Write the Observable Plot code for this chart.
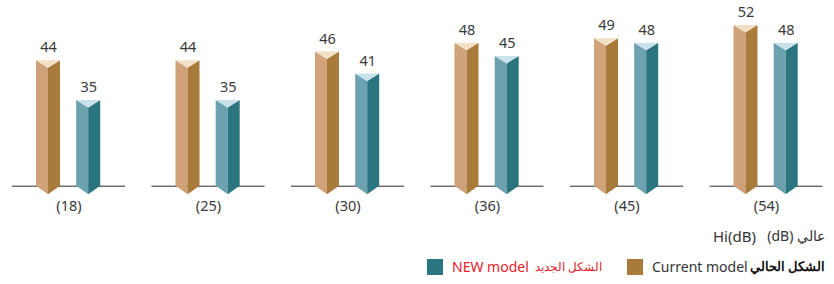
<!DOCTYPE html>
<html>
<head>
<meta charset="utf-8">
<script src="https://cdn.jsdelivr.net/npm/d3@7"></script>
<script src="https://cdn.jsdelivr.net/npm/@observablehq/plot@0.6"></script>
<style>
  html, body { margin: 0; padding: 0; background: #fff; }
  #wrap { position: relative; width: 834px; height: 284px; font-family: "Noto Sans", sans-serif; }
  .t { position: absolute; white-space: nowrap; line-height: 18px; }
  .sq { position: absolute; width: 16px; height: 16px; }
</style>
</head>
<body>
<div id="wrap"></div>
<script>
// ---- data ----
const groups = ["(18)", "(25)", "(30)", "(36)", "(45)", "(54)"];
const currentModel = [44, 44, 46, 48, 49, 52];
const newModel = [35, 35, 41, 45, 48, 48];
const seriesNames = ["Current model", "NEW model"];
const seriesNamesAr = ["الشكل الحالي", "الشكل الجديد"];
const unitLabel = "Hi(dB)";
const unitLabelAr = "عالي (dB)";

// ---- layout ----
const W = 834, H = 220;
const xr = [68.5, 766];
const yr = [185.7, 25];
const yDom = [15.6, d3.max([...currentModel, ...newModel])];
const kx = (xr[1] - xr[0]) / (groups.length - 1);
const ky = (yr[0] - yr[1]) / (yDom[1] - yDom[0]);
const px2x = p => p / kx, px2y = p => p / ky;

const series = [
  {values: currentModel, offset: -20.5, left: "#cfa27a", right: "#a97b3b", top: "#f2e0c4"},
  {values: newModel, offset: 19.7, left: "#6ca2b0", right: "#2b7581", top: "#c9e2e9"}
];

const faces = [];
const labels = [];
series.forEach((s, si) => {
  s.values.forEach((v, i) => {
    const c = i + px2x(s.offset), hw = px2x(12);
    const base = yDom[0], dT = px2y(7.5), dB = px2y(8.5);
    const id = si + "-" + i;
    faces.push({id: id + "L", fill: s.left, x: c - hw, y1: base, y2: v});
    faces.push({id: id + "L", fill: s.left, x: c, y1: base - dB, y2: v - dT});
    faces.push({id: id + "R", fill: s.right, x: c, y1: base - dB, y2: v - dT});
    faces.push({id: id + "R", fill: s.right, x: c + hw, y1: base, y2: v});
    faces.push({id: id + "T", fill: s.top, x: c - hw, y1: v, y2: v});
    faces.push({id: id + "T", fill: s.top, x: c, y1: v - dT, y2: v});
    faces.push({id: id + "T", fill: s.top, x: c + hw, y1: v, y2: v});
    labels.push({x: c, y: v, text: String(v)});
  });
});

const chart = Plot.plot({
  width: W, height: H, margin: 0,
  x: {domain: [0, groups.length - 1], range: xr, axis: null},
  y: {domain: yDom, range: yr, axis: null},
  color: {type: "identity"},
  style: {fontFamily: "Noto Sans, sans-serif", background: "#fff", overflow: "visible"},
  marks: [
    Plot.ruleY(groups, {y: () => yDom[0], x1: (d, i) => i - px2x(56.5), x2: (d, i) => i + px2x(56.5), stroke: "#2a2a2a", strokeWidth: 1}),
    Plot.area(faces, {x1: "x", y1: "y1", y2: "y2", z: "id", fill: "fill"}),
    Plot.text(labels, {x: "x", y: "y", text: "text", dy: -13, fontSize: 14.5, fill: "#3a3a3a"}),
    Plot.text(groups, {x: (d, i) => i, y: () => yDom[0], text: d => d, dy: 20.5, fontSize: 14.5, fill: "#3a3a3a"})
  ]
});
const wrap = document.getElementById("wrap");
wrap.appendChild(chart);

function span(text, style, dir) {
  const s = document.createElement("span");
  s.className = "t";
  s.textContent = text;
  if (dir) s.dir = dir;
  Object.assign(s.style, style);
  wrap.appendChild(s);
}
function sq(color, left) {
  const d = document.createElement("div");
  d.className = "sq";
  d.style.left = left + "px";
  d.style.top = "259px";
  d.style.background = color;
  wrap.appendChild(d);
}
// unit line
span(unitLabel, {left: "713px", top: "227px", fontSize: "15px", color: "#333"});
span(unitLabelAr, {right: "9px", top: "227px", fontSize: "14px", color: "#333"}, "rtl");
// legend
sq(series[1].right, 427);
span(seriesNames[1], {left: "452px", top: "258px", fontSize: "14px", color: "#e8202a"});
span(seriesNamesAr[1], {right: "232px", top: "258px", fontSize: "11.5px", color: "#e8202a"}, "rtl");
sq(series[0].right, 627);
span(seriesNames[0], {left: "652px", top: "258px", fontSize: "14px", color: "#333"});
span(seriesNamesAr[0], {right: "9px", top: "258px", fontSize: "12.5px", color: "#111", fontWeight: "bold"}, "rtl");
</script>
</body>
</html>
